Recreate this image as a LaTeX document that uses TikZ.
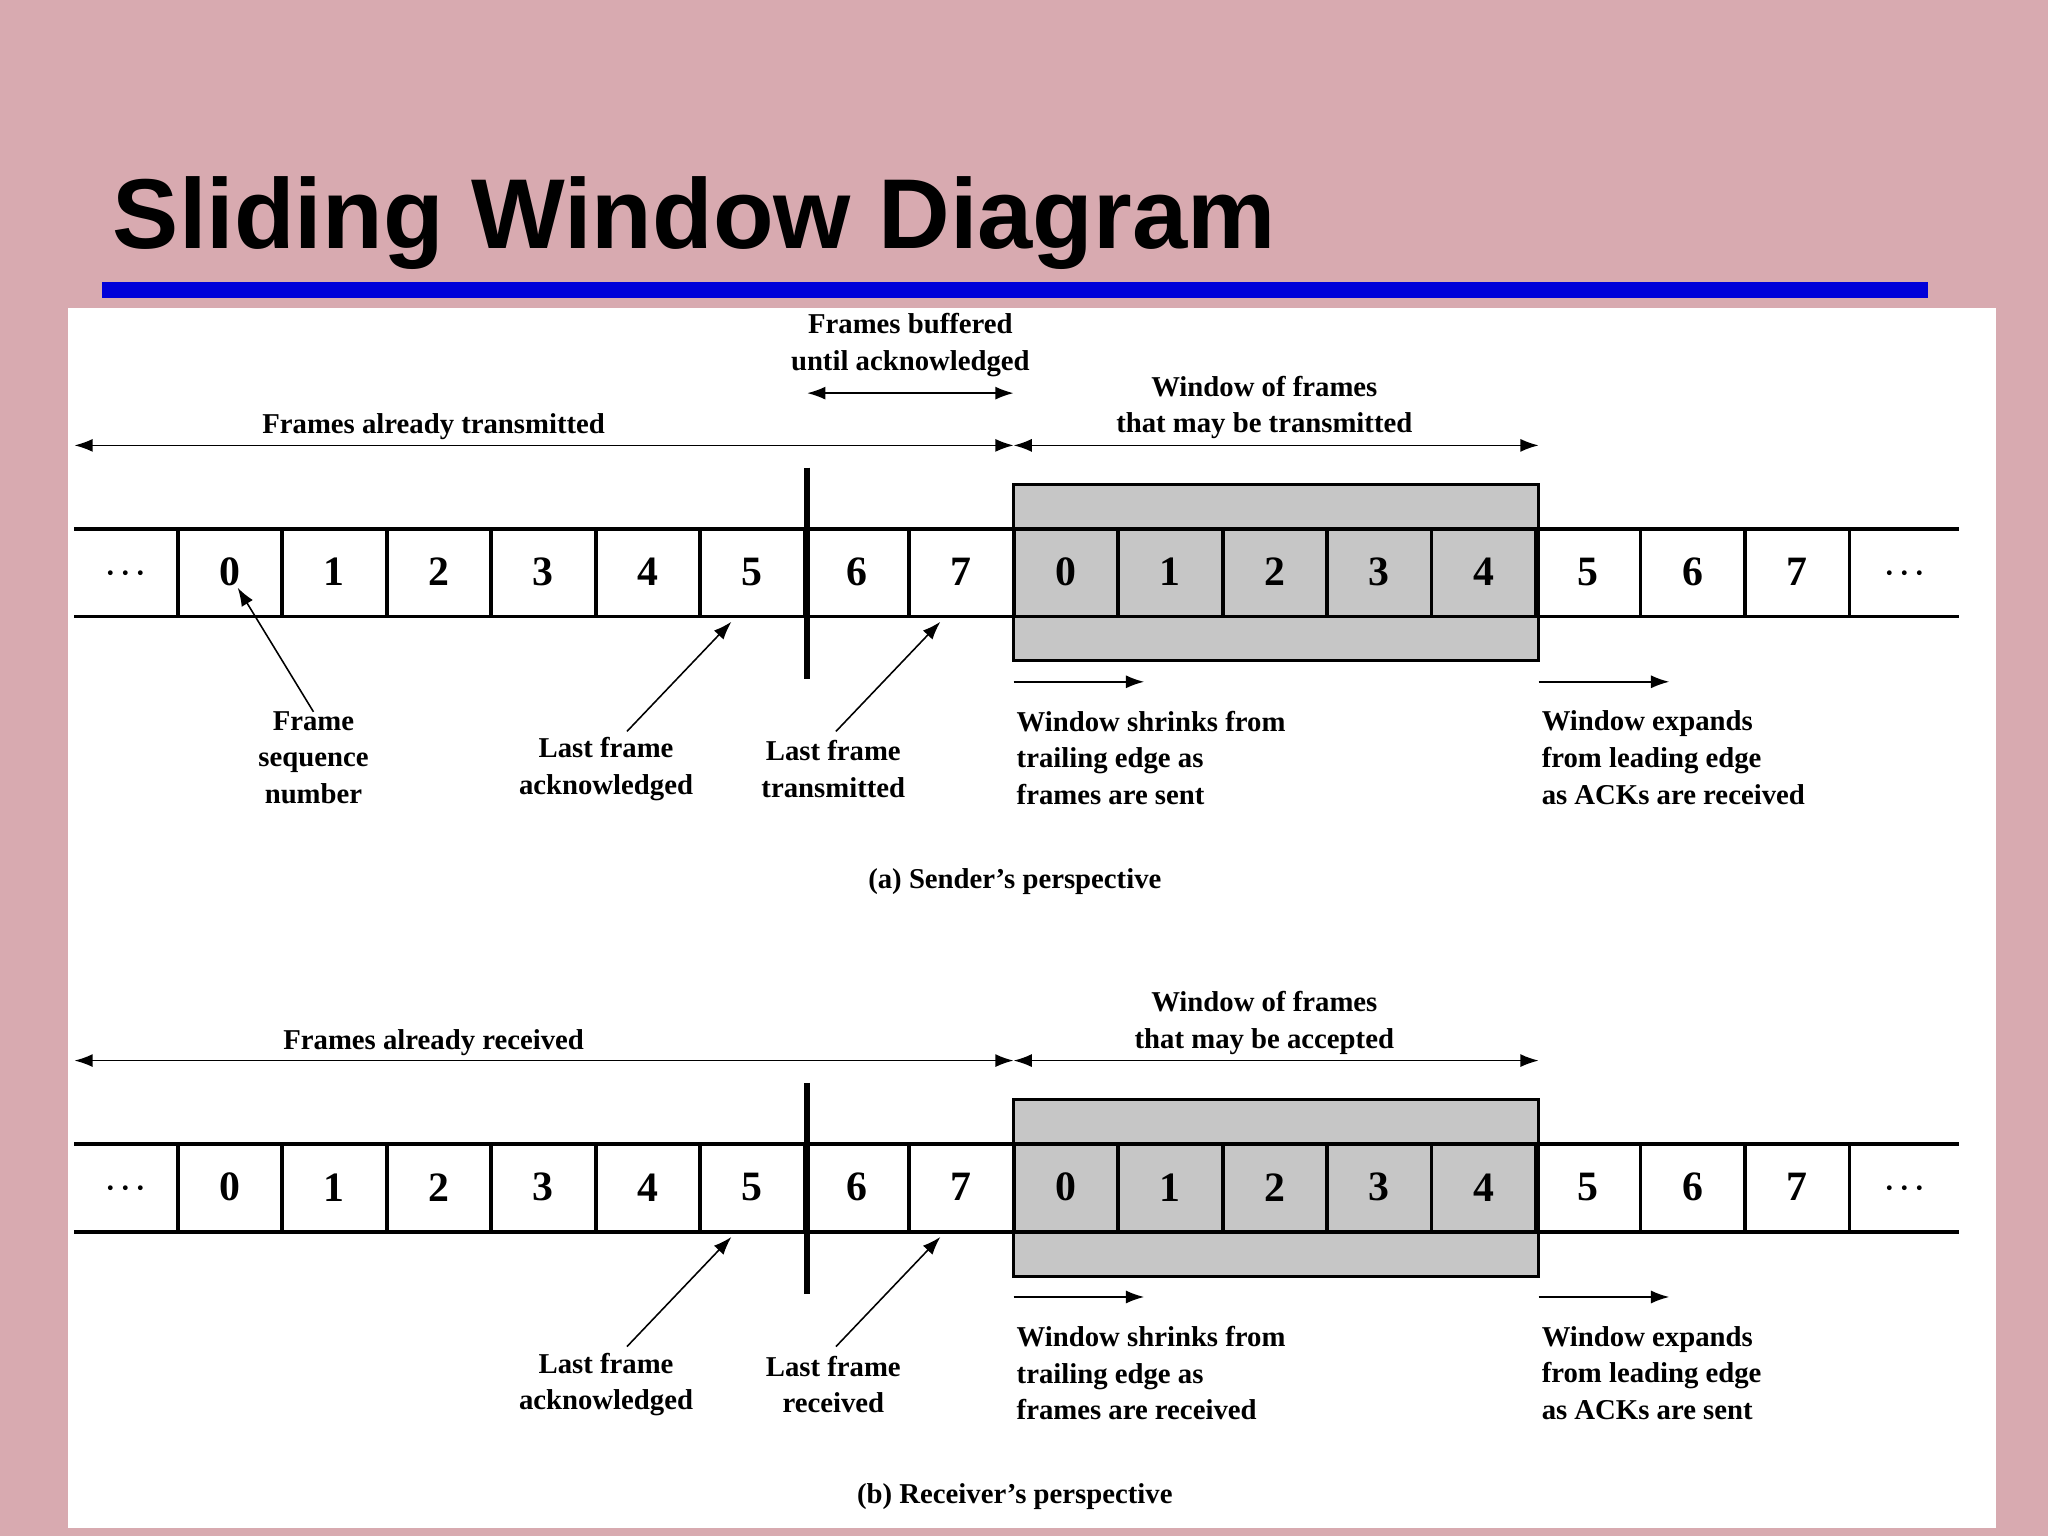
\documentclass[tikz,border=0pt]{standalone}
\usepackage{fontspec}
\setmainfont{Liberation Serif}
\setsansfont{Liberation Sans}
\usetikzlibrary{arrows.meta}
\definecolor{pinkbg}{HTML}{D8AAB0}
\begin{document}
\begin{tikzpicture}[x=0.5pt,y=-0.5pt,
  lbl/.style={font=\fontsize{11}{13}\selectfont\bfseries,align=center,inner sep=0},
  lbll/.style={lbl,align=left,anchor=north west},
  digit/.style={font=\fontsize{16}{18}\selectfont\bfseries,inner sep=0},
  dbl/.style={{Latex[length=7,width=5]}-{Latex[length=7,width=5]},line width=0.6pt},
  sarr/.style={-{Latex[length=7,width=5]},line width=0.6pt}]
\fill[pinkbg] (0,0) rectangle (1568,1176);
\useasboundingbox (0,0) rectangle (1568,1176);
\node[anchor=base west,font=\sffamily\bfseries\fontsize{38}{40}\selectfont,inner sep=0] (title) at (86,190) {Sliding Window Diagram};
\fill[blue!85!black] (78,216) rectangle (1476,228);
\fill[white] (52,236) rectangle (1528,1170);
\foreach \oy/\side in {0/a,471/b}{
\begin{scope}[yshift=-\oy*0.5pt]
\fill[gray!45] (776,371) rectangle (1178,506);
\draw[line width=1.2pt] (776,371) rectangle (1178,506);
\draw[line width=1.5pt] (57,405) -- (1500,405) (57,472) -- (1500,472);
\foreach \x in {136,216,...,1416} \draw[line width=1.5pt] (\x,405) -- (\x,472);
\foreach \d [count=\i from 0] in {0,1,2,3,4,5,6,7,0,1,2,3,4,5,6,7}
  \node[digit] (d\side\i) at ({176+80*\i},438) {\d};
\node[digit] (ld\side) at (96,440) {$\cdot\!\cdot\!\cdot$};
\node[digit] (rd\side) at (1458,440) {$\cdot\!\cdot\!\cdot$};
\draw[line width=2.5pt] (618,358) -- (618,520);
\coordinate (l1\side) at (57,341); \coordinate (l2\side) at (776,341); \coordinate (l3\side) at (1178,341);
\draw[dbl] (l1\side) -- (l2\side);
\draw[dbl] (l2\side) -- (l3\side);
\coordinate (s1\side) at (776,522); \coordinate (s2\side) at (876,522);
\coordinate (e1\side) at (1178,522); \coordinate (e2\side) at (1278,522);
\draw[sarr] (s1\side) -- (s2\side);
\draw[sarr] (e1\side) -- (e2\side);
\coordinate (a1\side) at (480,560); \coordinate (a2\side) at (560,476);
\coordinate (b1\side) at (640,560); \coordinate (b2\side) at (720,476);
\draw[sarr] (a1\side) -- (a2\side);
\draw[sarr] (b1\side) -- (b2\side);
\end{scope}}
% sender labels
\node[lbl] (fat) at (332,327) {Frames already transmitted};
\node[lbl] (wft) at (968,312) {Window of frames\\[1pt]that may be transmitted};
\node[lbl] (fb) at (697,264) {Frames buffered\\[1pt]until acknowledged};
\coordinate (fb1) at (618,301); \coordinate (fb2) at (776,301);
\draw[dbl] (fb1) -- (fb2);
\coordinate (fs1) at (240,545); \coordinate (fs2) at (182,450);
\draw[sarr] (fs1) -- (fs2);
\node[lbl] (fsn) at (240,580) {Frame\\[1pt]sequence\\[1pt]number};
\node[lbl] (lfa) at (464,589) {Last frame\\[1pt]acknowledged};
\node[lbl] (lft) at (638,589) {Last frame\\[1pt]transmitted};
\node[lbll] (ws) at (778,544) {Window shrinks from\\[1pt]trailing edge as\\[1pt]frames are sent};
\node[lbll] (we) at (1180,544) {Window expands\\[1pt]from leading edge\\[1pt]as ACKs are received};
\node[lbl] (cap1) at (777,675) {(a) Sender's perspective};
% receiver labels
\node[lbl] (far) at (332,798) {Frames already received};
\node[lbl] (wfa) at (968,783) {Window of frames\\[1pt]that may be accepted};
\node[lbl] (lfa2) at (464,1060) {Last frame\\[1pt]acknowledged};
\node[lbl] (lfr) at (638,1060) {Last frame\\[1pt]received};
\node[lbll] (ws2) at (778,1015) {Window shrinks from\\[1pt]trailing edge as\\[1pt]frames are received};
\node[lbll] (we2) at (1180,1015) {Window expands\\[1pt]from leading edge\\[1pt]as ACKs are sent};
\node[lbl] (cap2) at (777,1146) {(b) Receiver's perspective};
\end{tikzpicture}
\end{document}
